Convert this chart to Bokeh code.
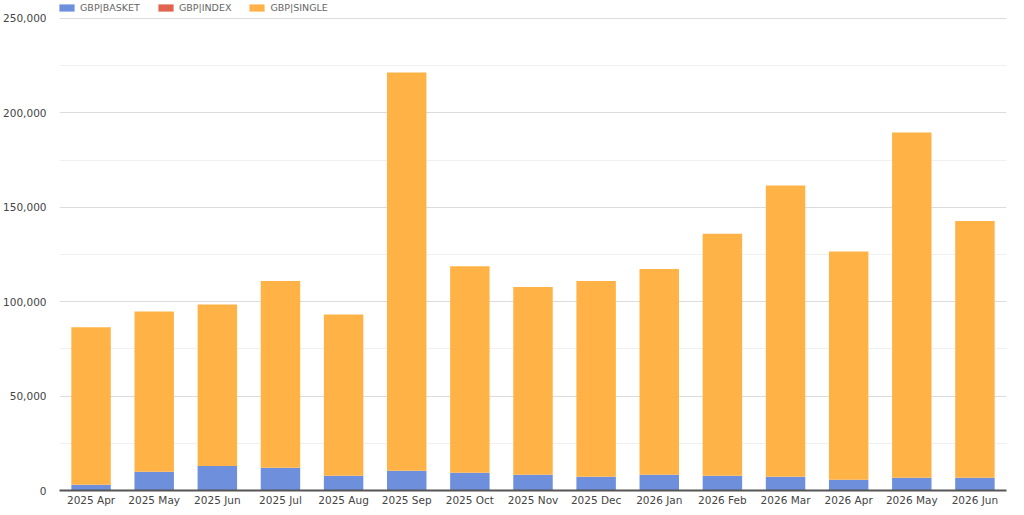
from bokeh.plotting import figure
from bokeh.models import (Range1d, FactorRange, NumeralTickFormatter, SingleIntervalTicker,
                          Legend, LegendItem)
from bokeh.embed import file_html
from bokeh.resources import INLINE

months = ["2025 Apr", "2025 May", "2025 Jun", "2025 Jul", "2025 Aug", "2025 Sep", "2025 Oct",
          "2025 Nov", "2025 Dec", "2026 Jan", "2026 Feb", "2026 Mar", "2026 Apr", "2026 May",
          "2026 Jun"]
basket = [3000, 9900, 13000, 12000, 7800, 10400, 9400, 8300, 7300, 8300, 7800, 7300, 5700, 6800, 6800]
index_ = [0] * 15
totals = [86500, 94800, 98500, 111000, 93200, 221400, 118800, 107800, 111000, 117300, 136000,
          161500, 126600, 189600, 142700]
single = [t - b for t, b in zip(totals, basket)]

series = ["GBP|BASKET", "GBP|INDEX", "GBP|SINGLE"]
colors = ["#6d8fdc", "#e0644e", "#ffb347"]

data = {"month": months, "GBP|BASKET": basket, "GBP|INDEX": index_, "GBP|SINGLE": single}

W, H = 1008, 508
BOTTOM = 16
STRIP = 18          # empty strip above the 250,000 gridline that holds the legend
frame_h = H - BOTTOM
y_top = 250000
y_end = y_top * frame_h / (frame_h - STRIP)

p = figure(x_range=FactorRange(*months, range_padding=0), y_range=Range1d(0, y_end),
           width=W, height=H, output_backend="svg", toolbar_location=None,
           min_border_left=50, min_border_right=2, min_border_top=0, min_border_bottom=BOTTOM)

rs = p.vbar_stack(series, x="month", width=0.625, color=colors, line_color=None, source=data)

legend = Legend(items=[LegendItem(label=s, renderers=[r]) for s, r in zip(series, rs)],
                orientation="horizontal", location=(-2, frame_h - 15),
                glyph_width=19, glyph_height=9, label_height=9,
                label_text_font="DejaVu Sans", label_text_font_size="9.5px",
                label_text_color="#666666", label_standoff=4, spacing=16,
                padding=0, margin=0, border_line_color=None, background_fill_alpha=0)
p.add_layout(legend)

p.outline_line_color = None
p.yaxis.ticker = SingleIntervalTicker(interval=50000, num_minor_ticks=2)
p.yaxis.formatter = NumeralTickFormatter(format="0,0")
p.yaxis.axis_line_color = None
p.yaxis.major_tick_line_color = None
p.yaxis.minor_tick_line_color = None
p.yaxis.major_tick_out = 0
p.yaxis.major_label_standoff = 9
p.xaxis.axis_line_color = "#555555"
p.xaxis.axis_line_width = 2
p.xaxis.major_tick_line_color = None
p.xaxis.minor_tick_line_color = None
p.xaxis.major_tick_out = 0
p.xaxis.major_label_standoff = 3
for ax in (p.xaxis, p.yaxis):
    ax.major_label_text_font = "DejaVu Sans"
    ax.major_label_text_font_size = "10.5px"
    ax.major_label_text_color = "#444444"

p.xgrid.grid_line_color = None
p.ygrid.grid_line_color = "#dcdcdc"
p.ygrid.minor_grid_line_color = "#f0f0f0"

open("out.html", "w").write(file_html(p, INLINE))
